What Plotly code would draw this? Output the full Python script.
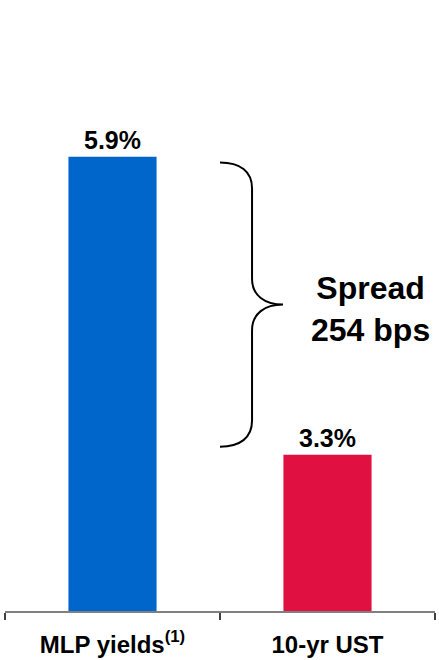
import plotly.graph_objects as go

categories = ["MLP yields<sup>(1)</sup>", "10-yr UST"]
values = [5.87, 3.33]
value_labels = ["5.9%", "3.3%"]
colors = ["#0066CC", "#E01140"]
spread_label = "Spread<br>254 bps"

FONT = "Liberation Sans, Arial, sans-serif"
x_pos = list(range(len(categories)))

fig = go.Figure()
fig.add_trace(go.Bar(
    x=x_pos, y=values, width=0.41,
    marker=dict(color=colors, line=dict(width=0)),
    text=value_labels, textposition="outside", cliponaxis=False,
    textfont=dict(family=FONT, size=25, color="black", weight="bold"),
    hoverinfo="skip",
))

# brace between the two values (data coords)
top = values[0] - 0.05
bot = values[1] + 0.07
mid = (top + bot) / 2
x0, xv, xt = 0.5, 0.649, 0.793
r = 0.22
path = (
    f"M {x0},{top} C {x0+0.093},{top} {xv},{top-0.075} {xv},{top-r} "
    f"L {xv},{mid+r} C {xv},{mid+0.075} {xv+0.06},{mid} {xt},{mid} "
    f"C {xv+0.06},{mid} {xv},{mid-0.075} {xv},{mid-r} "
    f"L {xv},{bot+r} C {xv},{bot+0.075} {x0+0.093},{bot} {x0},{bot}"
)
fig.add_shape(type="path", path=path, xref="x", yref="y",
              line=dict(color="black", width=2))

fig.add_annotation(x=1.2, y=mid - 0.04, xref="x", yref="y", text=spread_label,
                   showarrow=False,
                   font=dict(family=FONT, size=32, color="black", weight="bold"))

fig.update_layout(
    width=439, height=660,
    margin=dict(l=5, r=4, t=24, b=49, autoexpand=False),
    paper_bgcolor="white", plot_bgcolor="white",
    showlegend=False,
    xaxis=dict(
        range=[-0.5, 1.5], tickvals=x_pos, ticktext=categories,
        ticks="", showline=True, linecolor="#808080", linewidth=1.5,
        showgrid=False, zeroline=False, automargin=False,
        tickfont=dict(family=FONT, size=24, color="black", weight="bold"),
        ticklabelstandoff=11,
        minor=dict(tickvals=[-0.5, 0.5, 1.5], ticks="outside", ticklen=7,
                   tickcolor="#404040", tickwidth=1.5, showgrid=False),
    ),
    yaxis=dict(range=[2, 7], visible=False, showgrid=False, zeroline=False,
               automargin=False),
)

fig.write_html("out.html")
